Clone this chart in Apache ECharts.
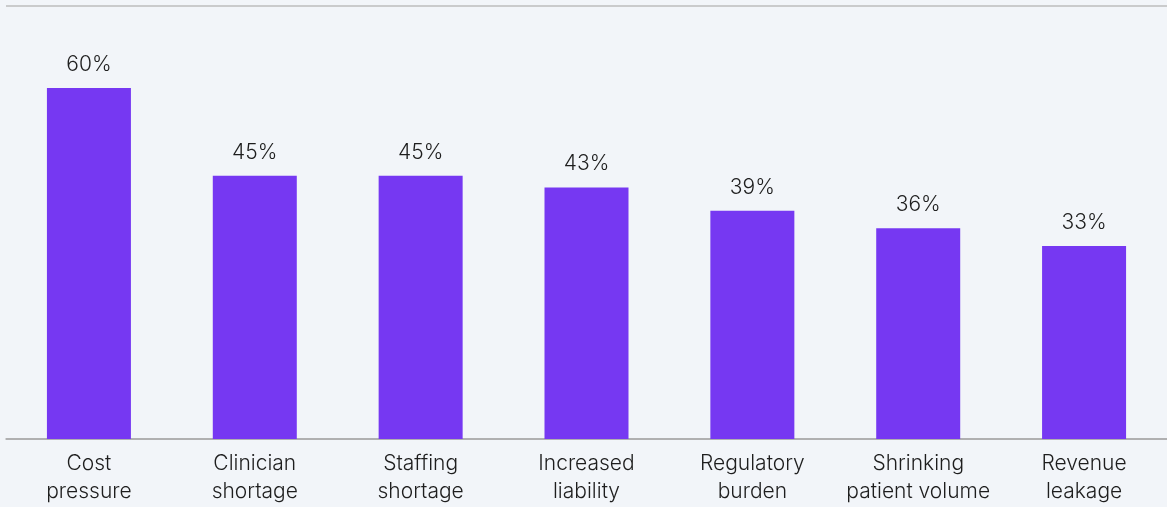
<!DOCTYPE html>
<html>
<head>
<meta charset="utf-8">
<script src="https://cdn.jsdelivr.net/npm/echarts@6/dist/echarts.min.js"></script>
<style>
  html, body { margin: 0; padding: 0; background: #F2F5F9; }
  #chart { width: 1167px; height: 507px; }
</style>
</head>
<body>
<div id="chart"></div>
<script>
// Top challenges, share of respondents (%)
const categories = [
  'Cost\npressure',
  'Clinician\nshortage',
  'Staffing\nshortage',
  'Increased\nliability',
  'Regulatory\nburden',
  'Shrinking\npatient volume',
  'Revenue\nleakage'
];
const values = [60, 45, 45, 43, 39, 36, 33];
const yMax = 74;

const textFont = { fontFamily: 'Inter', fontWeight: 300, fontSize: 21, color: '#1E1E1E' };

const chart = echarts.init(document.getElementById('chart'), null, { renderer: 'canvas' });
chart.setOption({
  backgroundColor: '#F2F5F9',
  animation: false,
  grid: { left: 6, width: 1164, top: 6, bottom: 68, containLabel: false },
  xAxis: {
    type: 'category',
    data: categories,
    axisLine: { show: true, lineStyle: { color: '#A8A8A8', width: 1.5 } },
    axisTick: { show: false },
    axisLabel: Object.assign({ lineHeight: 28, margin: 11, interval: 0 }, textFont)
  },
  yAxis: {
    type: 'value',
    min: 0,
    max: yMax,
    interval: yMax,
    axisLine: { show: false },
    axisTick: { show: false },
    axisLabel: { show: false },
    splitLine: { show: true, lineStyle: { color: '#BDBDBD', width: 1.5 } }
  },
  series: [{
    type: 'bar',
    data: values,
    barWidth: 84,
    itemStyle: { color: '#7638F2' },
    label: Object.assign({
      show: true,
      position: 'top',
      distance: 13,
      formatter: '{c}%'
    }, textFont)
  }]
});
</script>
</body>
</html>
